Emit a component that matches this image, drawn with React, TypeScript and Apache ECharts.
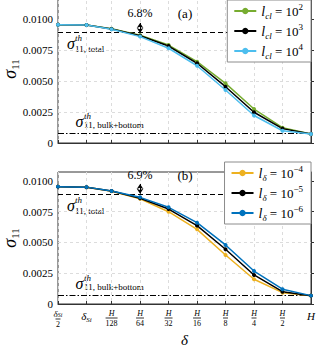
import React, { useEffect, useRef } from "react";
import * as echarts from "echarts";

const FONT = '"Liberation Serif", "Times New Roman", serif';

// x categories (delta), placed on a log2(delta/H) scale
const xLabels = ["δSi/2", "δSi", "H/128", "H/64", "H/32", "H/16", "H/8", "H/4", "H/2", "H"];
const xLog2 = [-8.88, -7.88, -7, -6, -5, -4, -3, -2, -1, 0];

// panel (a): l_cl
const cl2 = [0.00954, 0.00952, 0.00921, 0.0087, 0.0079, 0.00656, 0.00481, 0.00274, 0.00123, 0.00073];
const cl3 = [0.00954, 0.00952, 0.00919, 0.00865, 0.00782, 0.00643, 0.00454, 0.00248, 0.00116, 0.00073];
const cl4 = [0.00954, 0.00951, 0.00918, 0.00858, 0.00764, 0.00623, 0.00427, 0.00222, 0.00099, 0.00073];

// panel (b): l_delta
const d4 = [0.00954, 0.00949, 0.00917, 0.00855, 0.0075, 0.00607, 0.00398, 0.00201, 0.00092, 0.00068];
const d5 = [0.00954, 0.00949, 0.00918, 0.0086, 0.00772, 0.00637, 0.00445, 0.00236, 0.001, 0.00068];
const d6 = [0.00954, 0.0095, 0.00919, 0.00867, 0.00786, 0.00661, 0.0048, 0.00268, 0.0012, 0.00068];

// theoretical limits
const totalLimit = [0.00893, 0.00892];
const bulkLimit = [0.00077, 0.00068];
const arrowSpan = [
  [0.00968, 0.00887],
  [0.00976, 0.00897],
];
const gapText = ["6.8%", "6.9%"];
const panelTags = ["(a)", "(b)"];
const yTicks = [0, 0.0025, 0.005, 0.0075, 0.01];
const yGridValues = [0.0025, 0.005, 0.0075];

const legendA = ["lcl2", "lcl3", "lcl4"];
const legendB = ["ld4", "ld5", "ld6"];
const legendAText = ["2", "3", "4"];
const legendBText = ["−4", "−5", "−6"];

const colorsA = ["#77ac30", "#000000", "#4dbeee"];
const colorsB = ["#edb120", "#000000", "#0072bd"];

function xLabelRich(label: string): string {
  if (label === "H") return "{h|H}";
  if (label === "δSi") return "{dl|δ}{ds|Si}";
  if (label === "δSi/2") return "{nd|δ}{nds|Si}\n{bar| }\n{d|2}";
  const den = label.split("/")[1];
  const barKey = den.length >= 3 ? "barw" : den.length === 2 ? "barm" : "bar";
  return "{n|H}\n{" + barKey + "| }\n{d|" + den + "}";
}

const xRich = {
  h: { fontFamily: FONT, fontStyle: "italic", fontSize: 11, color: "#000", lineHeight: 14 },
  dl: { fontFamily: FONT, fontStyle: "italic", fontSize: 11, color: "#000", lineHeight: 14 },
  ds: { fontFamily: FONT, fontStyle: "italic", fontSize: 7, color: "#000", verticalAlign: "bottom", lineHeight: 10 },
  n: { fontFamily: FONT, fontStyle: "italic", fontSize: 8, color: "#000", lineHeight: 8 },
  nd: { fontFamily: FONT, fontStyle: "italic", fontSize: 9, color: "#000", lineHeight: 9 },
  nds: { fontFamily: FONT, fontStyle: "italic", fontSize: 6, color: "#000", lineHeight: 9, verticalAlign: "bottom" },
  d: { fontFamily: FONT, fontSize: 8, color: "#000", lineHeight: 8 },
  bar: { width: 5, height: 0.8, lineHeight: 2, backgroundColor: "#000", fontSize: 1 },
  barm: { width: 8, height: 0.8, lineHeight: 2, backgroundColor: "#000", fontSize: 1 },
  barw: { width: 12, height: 0.8, lineHeight: 2, backgroundColor: "#000", fontSize: 1 },
};

const legendRich = {
  i: { fontFamily: FONT, fontStyle: "italic", fontSize: 14, color: "#000", lineHeight: 18 },
  sub: { fontFamily: FONT, fontStyle: "italic", fontSize: 9, color: "#000", lineHeight: 9, verticalAlign: "bottom" },
  t: { fontFamily: FONT, fontSize: 13, color: "#000", lineHeight: 18 },
  sup: { fontFamily: FONT, fontSize: 9, color: "#000", lineHeight: 9, verticalAlign: "top" },
};

const xMin = xLog2[0];
const xMax = xLog2[xLog2.length - 1];

function gridLineSeries(gridIdx: number): any {
  return {
    name: "grid" + gridIdx,
    type: "line",
    xAxisIndex: gridIdx,
    yAxisIndex: gridIdx,
    data: [],
    silent: true,
    z: 1,
    markLine: {
      silent: true,
      symbol: "none",
      label: { show: false },
      z: 1,
      lineStyle: { color: "#dcdcdc", type: [3, 3], width: 1 },
      data: yGridValues.map((t) => [{ coord: [xMin, t] }, { coord: [xMax, t] }]),
    },
  };
}

function makeSeries(
  name: string,
  vals: number[],
  color: string,
  gridIdx: number,
  withMarks: boolean
): any {
  const s: any = {
    name,
    type: "line",
    xAxisIndex: gridIdx,
    yAxisIndex: gridIdx,
    data: xLog2.map((x, i) => [x, vals[i]]),
    symbol: "circle",
    symbolSize: 4,
    lineStyle: { color, width: 1.5 },
    itemStyle: { color },
    z: 3,
  };
  if (withMarks) {
    s.markLine = {
      silent: true,
      symbol: "none",
      label: { show: false },
      z: 2,
      data: [
        [
          { coord: [xMin, totalLimit[gridIdx]], lineStyle: { color: "#000", type: [5, 3], width: 1 } },
          { coord: [xMax, totalLimit[gridIdx]] },
        ],
        [
          { coord: [xMin, bulkLimit[gridIdx]], lineStyle: { color: "#000", type: [6, 2, 1.5, 2], width: 1 } },
          { coord: [xMax, bulkLimit[gridIdx]] },
        ],
        [
          {
            coord: [xLog2[3], arrowSpan[gridIdx][0]],
            symbol: "arrow",
            symbolSize: 5,
            lineStyle: { color: "#000", type: "solid", width: 1 },
          },
          { coord: [xLog2[3], arrowSpan[gridIdx][1]], symbol: "arrow", symbolSize: 5 },
        ],
      ],
    };
  }
  return s;
}

function panelGraphics(dy: number, idx: number): any[] {
  const base = { fill: "#000" };
  return [
    {
      type: "text",
      x: 185,
      y: 13 + dy,
      style: { ...base, text: panelTags[idx], font: "13px " + FONT, align: "center", verticalAlign: "middle" },
    },
    {
      type: "text",
      x: 140,
      y: 13 + dy,
      style: { ...base, text: gapText[idx], font: "12px " + FONT, align: "center", verticalAlign: "middle" },
    },
    {
      type: "text",
      x: 71,
      y: 43 + dy,
      style: { ...base, text: "σ", font: "italic 16px " + FONT, align: "center", verticalAlign: "middle" },
    },
    {
      type: "text",
      x: 75,
      y: 38 + dy,
      style: { ...base, text: "th", font: "italic 9px " + FONT, align: "left", verticalAlign: "middle" },
    },
    {
      type: "text",
      x: 75,
      y: 49 + dy,
      style: { ...base, text: "11, total", font: "9px " + FONT, align: "left", verticalAlign: "middle" },
    },
    {
      type: "text",
      x: 79.5,
      y: 121 + dy,
      style: { ...base, text: "σ", font: "italic 16px " + FONT, align: "center", verticalAlign: "middle" },
    },
    {
      type: "text",
      x: 84,
      y: 116 + dy,
      style: { ...base, text: "th", font: "italic 9px " + FONT, align: "left", verticalAlign: "middle" },
    },
    {
      type: "text",
      x: 84,
      y: 125 + dy,
      style: { ...base, text: "11, bulk+bottom", font: "9px " + FONT, align: "left", verticalAlign: "middle" },
    },
  ];
}

function yAxisCfg(gridIndex: number, max: number): any {
  return {
    type: "value",
    gridIndex,
    min: 0,
    max,
    name: "{s|σ}{sub|11}",
    nameLocation: "middle",
    nameRotate: 90,
    nameGap: 38,
    nameMoveOverlap: false,
    nameTextStyle: {
      rich: {
        s: { fontFamily: FONT, fontStyle: "italic", fontSize: 18, color: "#000", lineHeight: 20 },
        sub: { fontFamily: FONT, fontSize: 11, color: "#000", verticalAlign: "bottom", lineHeight: 12 },
      },
    },
    axisLine: { show: true, lineStyle: { color: "#333", width: 1 } },
    axisTick: { show: true, inside: true, length: 3, customValues: yTicks, lineStyle: { color: "#333" } },
    axisLabel: {
      fontFamily: FONT,
      fontSize: 11,
      color: "#000",
      margin: 5,
      customValues: yTicks,
      formatter: (v: number) => (v === 0 ? "0" : v.toFixed(4)),
    },
    splitLine: { show: false },
  };
}

function xAxisCfg(gridIndex: number, showLabels: boolean): any {
  return {
    type: "value",
    gridIndex,
    min: xMin,
    max: xMax,
    name: showLabels ? "δ" : "",
    nameLocation: "middle",
    nameGap: 28,
    nameTextStyle: { fontFamily: FONT, fontStyle: "italic", fontSize: 15, color: "#000" },
    axisLine: { show: true, onZero: false, lineStyle: { color: "#333", width: 1 } },
    axisTick: { show: true, inside: true, length: 3, customValues: xLog2, lineStyle: { color: "#333" } },
    axisLabel: {
      show: showLabels,
      customValues: xLog2,
      margin: 5,
      interval: 0,
      formatter: (v: number) => {
        const i = xLog2.findIndex((x) => Math.abs(x - v) < 0.01);
        return i < 0 ? "" : xLabelRich(xLabels[i]);
      },
      rich: xRich,
    },
    splitLine: { show: true, lineStyle: { color: "#dcdcdc", type: [3, 3], width: 1 } },
  };
}

function legendCfg(names: string[], texts: string[], top: number, subLabel: string): any {
  return {
    data: names,
    orient: "vertical",
    right: 9,
    top,
    backgroundColor: "#fff",
    borderColor: "#8c8c8c",
    borderWidth: 1,
    borderRadius: 0,
    padding: [2, 8, 2, 6],
    itemWidth: 22,
    itemHeight: 8,
    itemGap: 2,
    formatter: (name: string) => {
      const i = names.indexOf(name);
      return "{i|l}{sub|" + subLabel + "}{t| = 10}{sup|" + texts[i] + "}";
    },
    textStyle: { rich: legendRich, padding: [0, 0, 0, 0] },
  };
}

export default function App() {
  const ref = useRef<HTMLDivElement>(null);
  useEffect(() => {
    if (!ref.current) return;
    const chart = echarts.init(ref.current, null, { renderer: "svg" });
    const gridBase = {
      left: 58,
      right: 9,
      show: true,
      borderColor: "#333",
      borderWidth: 1,
      containLabel: false,
      outerBoundsMode: "none",
    };
    const option: any = {
      animation: false,
      backgroundColor: "#fff",
      textStyle: { fontFamily: FONT },
      grid: [
        { ...gridBase, top: -5, height: 148 },
        { ...gridBase, top: 172, height: 132 },
      ],
      xAxis: [xAxisCfg(0, false), xAxisCfg(1, true)],
      yAxis: [yAxisCfg(0, 0.011935), yAxisCfg(1, 0.01073)],
      legend: [legendCfg(legendA, legendAText, 0, "cl"), legendCfg(legendB, legendBText, 162, "δ")],
      series: [
        gridLineSeries(0),
        gridLineSeries(1),
        makeSeries(legendA[0], cl2, colorsA[0], 0, true),
        makeSeries(legendA[1], cl3, colorsA[1], 0, false),
        makeSeries(legendA[2], cl4, colorsA[2], 0, false),
        makeSeries(legendB[0], d4, colorsB[0], 1, true),
        makeSeries(legendB[1], d5, colorsB[1], 1, false),
        makeSeries(legendB[2], d6, colorsB[2], 1, false),
      ],
      graphic: [...panelGraphics(0, 0), ...panelGraphics(162, 1)],
    };
    chart.setOption(option);
    return () => chart.dispose();
  }, []);
  return (
    <div
      ref={ref}
      style={{ position: "fixed", left: 0, top: 0, width: 320, height: 350, background: "#fff" }}
    />
  );
}
